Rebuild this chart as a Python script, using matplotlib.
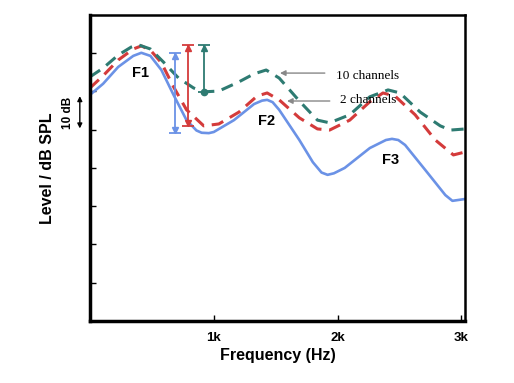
import matplotlib.pyplot as plt
import matplotlib.transforms as mtransforms

OUTPUT = "out.png"

# curves (Hz, dB)
freq_blue = [0, 106, 228, 350, 415, 488, 577, 675, 780, 860, 902, 960, 1000, 1163, 1325, 1390,
             1431, 1475, 1528, 1691, 1800, 1870, 1919, 1970, 2057, 2260, 2390, 2439, 2490,
             2545, 2707, 2870, 2927, 3033]
level_blue = [59.1, 62.0, 66.4, 69.3, 70.1, 69.3, 65.6, 59.1, 52.5, 49.8, 49.2, 49.1, 49.4,
              52.5, 56.7, 57.6, 57.8, 57.2, 55.2, 47.3, 41.5, 38.8, 38.2, 38.6, 40.0, 45.2,
              47.3, 47.6, 47.3, 46.0, 39.5, 32.9, 31.4, 31.9]

freq_red = [0, 106, 228, 350, 415, 488, 577, 675, 780, 919, 1041, 1203, 1350, 1431,
            1528, 1691, 1837, 1935, 2098, 2260, 2366, 2463, 2626, 2789, 2935, 3033]
level_red = [60.9, 64.1, 68.2, 71.1, 71.9, 70.8, 67.5, 61.2, 55.2, 51.0, 51.5, 54.6, 58.8, 59.6,
             57.8, 53.1, 50.2, 49.9, 52.5, 57.3, 59.6, 58.8, 53.9, 47.3, 43.4, 44.2]

freq_green = [0, 106, 228, 333, 390, 488, 593, 715, 837, 919, 1041, 1203, 1325, 1423,
              1528, 1691, 1837, 1935, 2098, 2260, 2407, 2504, 2667, 2829, 2911, 3033]
level_green = [63.8, 66.1, 69.5, 71.6, 72.2, 71.1, 67.7, 63.5, 60.9, 59.9, 60.1, 62.5, 64.6, 65.6,
               63.5, 57.5, 52.5, 51.8, 53.9, 58.6, 60.4, 59.6, 54.6, 51.0, 49.9, 50.2]

# range bars: x position, low, high
bar_x = [683, 789, 919]
bar_low = [49.2, 51.0, 59.9]
bar_high = [70.1, 72.2, 72.2]

formants = ["F1", "F2", "F3"]
formant_x = [407, 1423, 2431]
formant_y = [64.8, 52.3, 42.1]

BLUE = "#6b92e6"
RED = "#d43b3b"
GREEN = "#2e7b72"
colors = [BLUE, RED, GREEN]

fig = plt.figure(figsize=(5.14, 3.83), dpi=100)
ax = fig.add_axes([0.175, 0.162, 0.730, 0.799])

ax.plot(freq_blue, level_blue, color=BLUE, lw=1.9)
ax.plot(freq_red, level_red, color=RED, lw=2.2, dashes=(4, 2.5))
ax.plot(freq_green, level_green, color=GREEN, lw=2.2, dashes=(4, 2.5))

for x, lo, hi, c in zip(bar_x, bar_low, bar_high, colors):
    ax.errorbar([x], [(lo + hi) / 2], yerr=[[(hi - lo) / 2], [(hi - lo) / 2]],
                color=c, capsize=4, elinewidth=1.3, capthick=1.3, fmt="none")
    ax.plot([x], [hi - 0.8], marker="^", color=c, ms=4)
    if c == GREEN:
        ax.plot([x], [lo], marker="o", color=c, ms=4.5)
    else:
        ax.plot([x], [lo + 0.8], marker="v", color=c, ms=4)

for name, x, y in zip(formants, formant_x, formant_y):
    ax.text(x, y, name, ha="center", va="center", fontsize=10.5,
            fontweight="bold", family="Liberation Sans")

arrow = dict(arrowstyle="-|>", color="#888888", lw=1.0, mutation_scale=8)
ax.annotate("", xy=(1512, 64.8), xytext=(1919, 64.8), arrowprops=arrow)
ax.text(1984, 64.1, "10 channels", va="center", fontsize=9.5, family="Liberation Serif")
ax.annotate("", xy=(1569, 57.5), xytext=(1959, 57.5), arrowprops=arrow)
ax.text(2016, 57.8, "2 channels", va="center", fontsize=9.5, family="Liberation Serif")

# 10 dB scale marker left of the axis
trans = mtransforms.blended_transform_factory(ax.transAxes, ax.transData)
ax.annotate("", xy=(-0.027, 59.5), xytext=(-0.027, 49.6), xycoords=trans, textcoords=trans,
            arrowprops=dict(arrowstyle="<|-|>", color="black", lw=1.0, mutation_scale=7),
            annotation_clip=False)
ax.text(-0.058, 54.5, "10 dB", transform=trans, rotation=90, ha="center", va="center",
        fontsize=8.5, fontweight="bold", family="Liberation Sans")

ax.set_xlim(0, 3030)
ax.set_ylim(0, 80)
ax.set_xticks([1000, 2000, 3000])
ax.set_xticklabels(["1k", "2k", "3k"], fontsize=9.5, fontweight="bold", family="Liberation Sans")
ax.set_yticks([10, 20, 30, 40, 50, 60, 70])
ax.set_yticklabels([])
ax.tick_params(axis="both", direction="in", length=4, width=1)
ax.tick_params(axis="x", pad=8)

for side in ["left", "bottom"]:
    ax.spines[side].set_linewidth(2.5)
for side in ["top", "right"]:
    ax.spines[side].set_linewidth(1.8)

ax.set_xlabel("Frequency (Hz)", fontsize=11.5, fontweight="bold", family="Liberation Sans",
              labelpad=3)
ax.set_ylabel("Level / dB SPL", fontsize=11.5, fontweight="bold", family="Liberation Sans",
              labelpad=22)

plt.savefig(OUTPUT, dpi=100)
